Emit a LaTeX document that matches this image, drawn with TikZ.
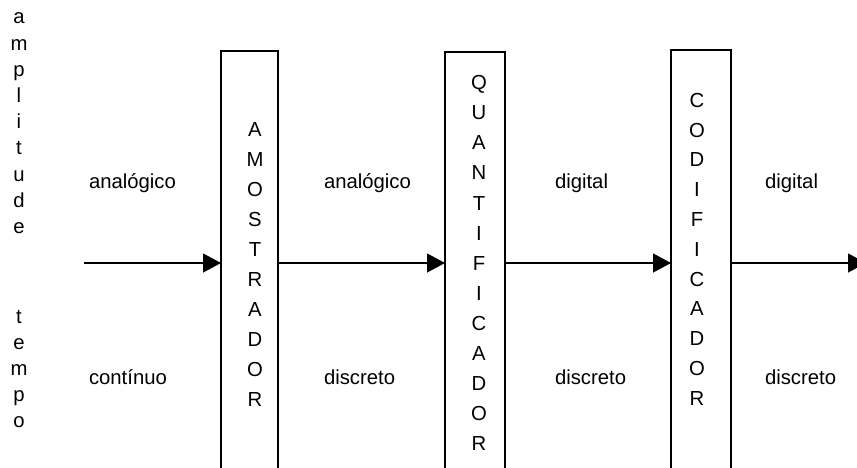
\documentclass[tikz,border=0pt]{standalone}
\usepackage{fontspec}
\setmainfont{Liberation Sans}
\usetikzlibrary{arrows.meta}
\begin{document}
\begin{tikzpicture}[x=1pt,y=-1pt,
  every node/.style={font=\fontsize{20.3pt}{24pt}\selectfont, inner sep=0pt, outer sep=0pt},
  blockbox/.style={draw, line width=1.5pt},
  arr/.style={line width=1.2pt, -{Triangle[length=18pt,width=19pt]}},
  letter/.style={anchor=base},
  lbl/.style={anchor=base west}]
\useasboundingbox (0,0) rectangle (857,468);
\clip (0,0) rectangle (857,468);
% left vertical words
\foreach \ch [count=\i] in {a,m,p,l,i,t,u,d,e}
  \node[letter] (amp\i) at (19,{24+26.2*(\i-1)}) {\ch};
\foreach \ch [count=\i] in {t,e,m,p,o}
  \node[letter] (tem\i) at (19,{323+26*(\i-1)}) {\ch};
% blocks
\node[blockbox, minimum width=57pt, minimum height=424pt] (b1) at (249.5,263) {};
\node[blockbox, minimum width=60pt, minimum height=422pt] (b2) at (475,263) {};
\node[blockbox, minimum width=60pt, minimum height=426pt] (b3) at (701,263) {};
% block letters
\foreach \ch [count=\i] in {A,M,O,S,T,R,A,D,O,R}
  \node[letter] (am\i) at (255,{136.8+30*(\i-1)}) {\ch};
\foreach \ch [count=\i] in {Q,U,A,N,T,I,F,I,C,A,D,O,R}
  \node[letter] (qu\i) at (479,{89.8+30.05*(\i-1)}) {\ch};
\foreach \ch [count=\i] in {C,O,D,I,F,I,C,A,D,O,R}
  \node[letter] (co\i) at (697,{107.3+29.8*(\i-1)}) {\ch};
% labels
\node[lbl] (t1) at (89,189) {analógico};
\node[lbl] (d1) at (89,384) {contínuo};
\node[lbl] (t2) at (324,189) {analógico};
\node[lbl] (d2) at (324,384) {discreto};
\node[lbl] (t3) at (555,189) {digital};
\node[lbl] (d3) at (555,384) {discreto};
\node[lbl] (t4) at (765,189) {digital};
\node[lbl] (d4) at (765,384) {discreto};
% connectors
\coordinate (in) at (84,263);
\coordinate (out) at (866,263);
\draw[arr] (in) -- (b1.west);
\draw[arr] (b1.east) -- (b2.west);
\draw[arr] (b2.east) -- (b3.west);
\draw[arr] (b3.east) -- (out);
\end{tikzpicture}
\end{document}
